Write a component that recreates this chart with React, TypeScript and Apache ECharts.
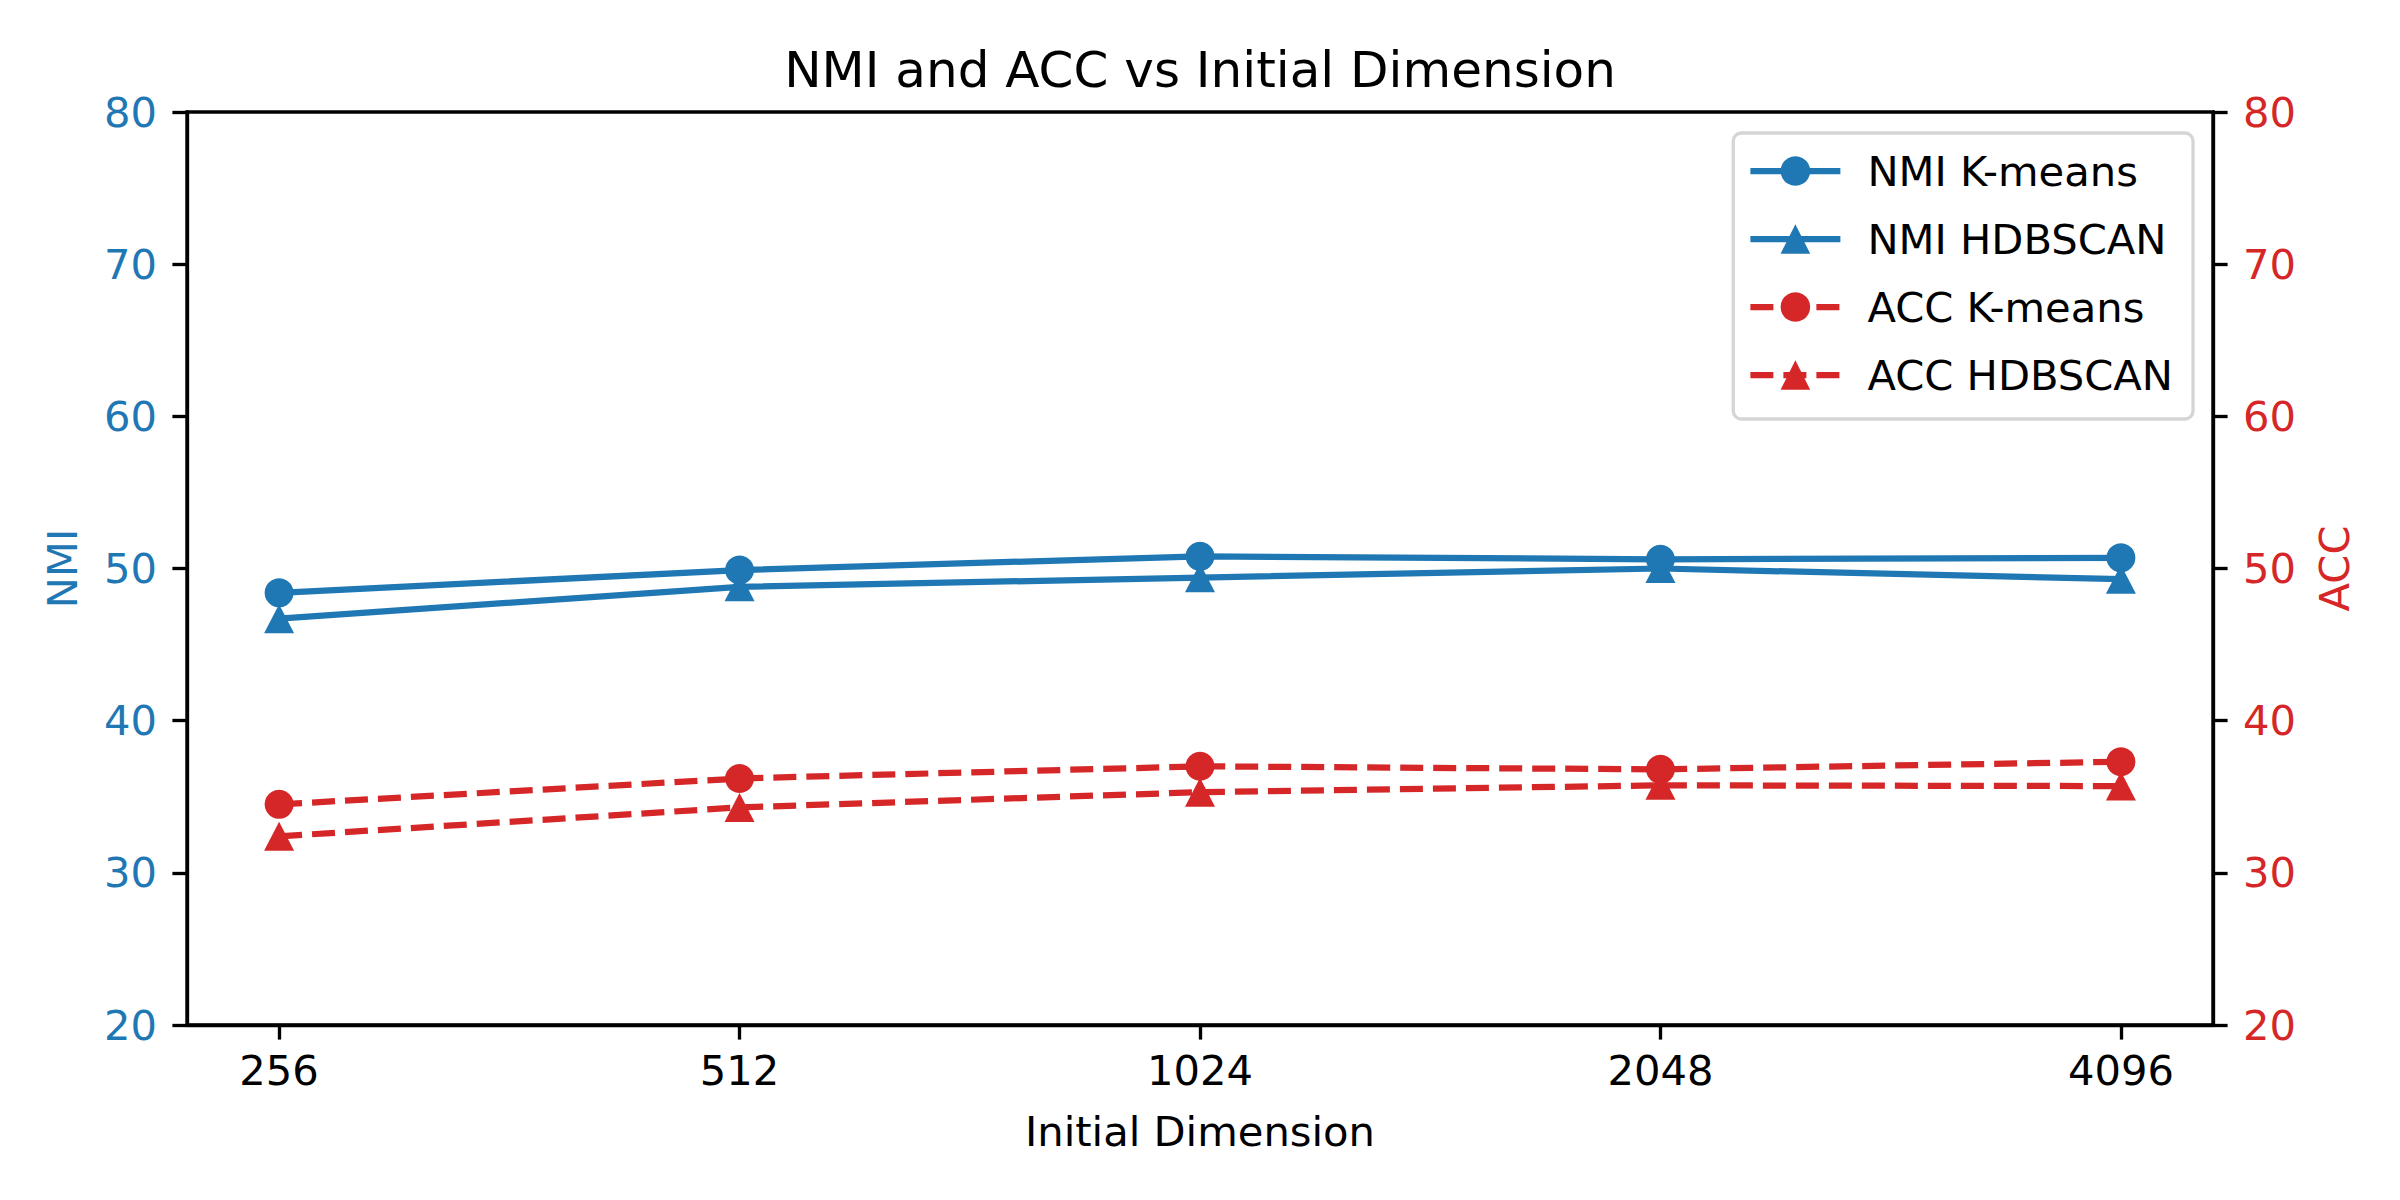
import React, { useEffect, useRef } from "react";
import * as echarts from "echarts";

const dims = ["256", "512", "1024", "2048", "4096"];
const nmiKmeans = [48.4, 49.9, 50.8, 50.6, 50.7];
const nmiHdbscan = [46.7, 48.8, 49.4, 50.0, 49.3];
const accKmeans = [34.5, 36.2, 37.0, 36.8, 37.3];
const accHdbscan = [32.4, 34.3, 35.3, 35.75, 35.7];
const yTicks = [20, 30, 40, 50, 60, 70, 80];

const FONT = "DejaVu Sans";
const BLUE = "#1f77b4";
const RED = "#d62728";
const LW = 3.33;

const toPairs = (arr: number[]) => arr.map((v, i) => [i, v]);

export default function App() {
  const ref = useRef<HTMLDivElement>(null);
  useEffect(() => {
    document.body.style.margin = "0";
    const chart = echarts.init(ref.current!, null, { renderer: "svg" });
    const tickIdx = dims.map((_, i) => i);
    const yAxisBase = (pos: "left" | "right", color: string, name: string) => ({
      type: "value",
      position: pos,
      min: yTicks[0],
      max: yTicks[yTicks.length - 1],
      interval: 10,
      name,
      nameLocation: "middle",
      nameRotate: 90,
      nameGap: pos === "left" ? 104 : 100,
      nameTextStyle: { color, fontSize: 41.67, fontFamily: FONT },
      axisLine: { show: true, onZero: false, lineStyle: { color: "#000", width: LW } },
      axisTick: { show: true, length: 14.6, lineStyle: { color: "#000", width: LW } },
      axisLabel: { color, fontSize: 41.67, fontFamily: FONT, margin: 30 },
      splitLine: { show: false },
    });
    const mk = (name: string, data: number[], color: string, axis: number, symbol: string, dashed: boolean) => ({
      name,
      type: "line",
      yAxisIndex: axis,
      data: toPairs(data),
      symbol,
      symbolSize: symbol === "circle" ? 29 : [30, 29],
      lineStyle: { color, width: 6.25, type: dashed ? [23, 10] : "solid" },
      itemStyle: { color },
      emphasis: { disabled: true },
    });
    chart.setOption({
      animation: false,
      backgroundColor: "#fff",
      title: {
        text: "NMI and ACC vs Initial Dimension",
        left: "center",
        top: 40,
        textStyle: { fontSize: 50, fontWeight: "normal", color: "#000", fontFamily: FONT },
      },
      grid: {
        left: 187,
        right: 187,
        top: 112,
        bottom: 175,
        show: true,
        borderColor: "#000",
        borderWidth: LW,
        backgroundColor: "transparent",
      },
      legend: {
        orient: "vertical",
        right: 207,
        top: 133,
        itemWidth: 90,
        itemHeight: 37,
        itemGap: 26,
        padding: [17, 20, 23, 14],
        borderColor: "#d5d5d5",
        borderWidth: 3.3,
        borderRadius: 8,
        backgroundColor: "rgba(255,255,255,0.8)",
        lineStyle: { width: 6.25 },
        textStyle: { fontSize: 41.67, fontFamily: FONT, color: "#000", padding: [0, 0, 0, 22] },
        data: ["NMI K-means", "NMI HDBSCAN", "ACC K-means", "ACC HDBSCAN"],
      },
      xAxis: {
        type: "value",
        min: -0.2,
        max: 4.2,
        name: "Initial Dimension",
        nameLocation: "middle",
        nameGap: 85,
        nameTextStyle: { color: "#000", fontSize: 41.67, fontFamily: FONT },
        axisLine: { show: true, onZero: false, lineStyle: { color: "#000", width: LW } },
        axisTick: { show: true, customValues: tickIdx, length: 14.6, lineStyle: { color: "#000", width: LW } },
        axisLabel: {
          customValues: tickIdx,
          formatter: (v: number) => dims[Math.round(v)],
          color: "#000",
          fontSize: 41.67,
          fontFamily: FONT,
          margin: 24,
        },
        splitLine: { show: false },
      },
      yAxis: [yAxisBase("left", BLUE, "NMI"), yAxisBase("right", RED, "ACC")],
      series: [
        mk("NMI K-means", nmiKmeans, BLUE, 0, "circle", false),
        mk("NMI HDBSCAN", nmiHdbscan, BLUE, 0, "triangle", false),
        mk("ACC K-means", accKmeans, RED, 1, "circle", true),
        mk("ACC HDBSCAN", accHdbscan, RED, 1, "triangle", true),
      ],
    });
    return () => chart.dispose();
  }, []);
  return <div ref={ref} style={{ width: 2400, height: 1200 }} />;
}
